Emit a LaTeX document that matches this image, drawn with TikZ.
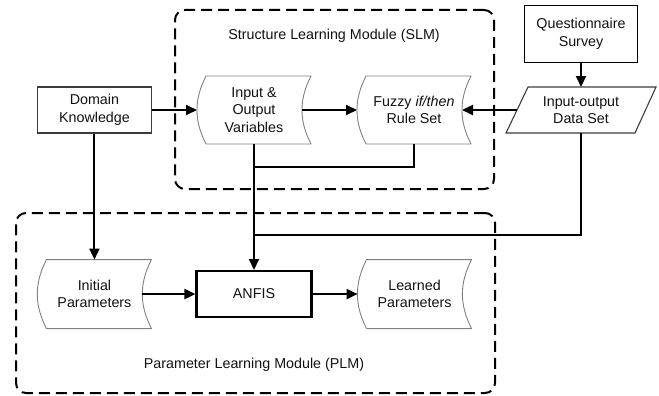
\documentclass[tikz,border=0pt]{standalone}
\usepackage{fontspec}
\setmainfont{Liberation Sans}
\usetikzlibrary{arrows.meta,positioning,calc,fit}
\definecolor{cText}{HTML}{111111}
\definecolor{cLine}{HTML}{000000}
\definecolor{cStore}{HTML}{808080}
\definecolor{cBox}{HTML}{3C3C3C}
\tikzset{
  txt/.style={font=\fontsize{14.3bp}{17.5bp}\selectfont, text=cText, align=center},
  plainbox/.style={txt, draw=cBox, line width=1.1bp, minimum width=114bp, minimum height=46bp, inner sep=2bp},
  srcbox/.style={plainbox, draw=cLine, line width=1.4bp, minimum height=57bp, minimum width=113bp},
  corebox/.style={plainbox, draw=cLine, line width=2.1bp, minimum width=115bp},
  storebox/.style={txt, outer sep=0pt, minimum width=114bp, minimum height=68bp, inner sep=2bp},
  databox/.style={txt, outer sep=0pt, minimum width=150bp, minimum height=46bp, inner sep=2bp},
  storeline/.style={draw=cStore, line width=0.9bp, line join=round},
  dataline/.style={draw=cBox, line width=1.1bp},
  module/.style={draw=cLine, line width=2bp, dash pattern=on 11bp off 6bp, rounded corners=10bp, inner sep=0pt},
  wire/.style={cLine, line width=2bp},
  arr/.style={wire, -{Triangle[length=11bp, width=10bp]}}
}

\begin{document}
\begin{tikzpicture}[x=1bp, y=1bp]
\useasboundingbox (0,0) rectangle (659,395);
% Row 1: structure learning
\node[storebox] (iovar) at (254,285) {Input \&\\Output\\Variables};
\node[storebox, right=46bp of iovar] (rules) {Fuzzy \textit{if/then}\\Rule Set};
\node[databox, right=35bp of rules] (ds) {Input-output\\Data Set};
\node[srcbox, above=24bp of ds] (quest) {Questionnaire\\Survey};
\node[plainbox, left=45bp of iovar] (dk) {Domain\\Knowledge};
% Row 2: parameter learning
\node[corebox, below=126bp of iovar] (anfis) {ANFIS};
\node[storebox, minimum height=69bp, left=44bp of anfis] (initp) {Initial\\Parameters};
\node[storebox, minimum height=69bp, right=45bp of anfis] (learnp) {Learned\\Parameters};
% Outlines of the data shapes
\foreach \n in {iovar,rules,initp,learnp}
  \draw[storeline] ($(\n.north west)+(9bp,0)$) -- (\n.north east) to[bend right=27] (\n.south east)
    -- ($(\n.south west)+(9bp,0)$) to[bend left=27] ($(\n.north west)+(9bp,0)$) -- cycle;
\draw[dataline] ($(ds.north west)+(22bp,0)$) -- (ds.north east) -- ($(ds.south east)+(-21bp,0)$) -- (ds.south west) -- cycle;
% Modules
\node[module, fit={(175,385) (494,206)}] (slm) {};
\node[module, fit={(16,182) (495,2)}] (plm) {};
\node[txt] (slmlbl) at ($(slm.north)+(-0.5,-27)$) {Structure Learning Module (SLM)};
\node[txt] (plmlbl) at ($(plm.south)+(-1.5,29)$) {Parameter Learning Module (PLM)};
% Connectors
\coordinate (slmjoin) at ($(iovar.south)+(0,-23bp)$);
\coordinate (plmjoin) at ($(anfis.north)+(0,35bp)$);
\draw[arr] (dk) -- (iovar);
\draw[arr] ($(iovar.east)+(-9bp,0)$) -- ($(rules.west)$);
\draw[arr] ($(ds.west)+(11bp,0)$) -- ($(rules.east)+(-9bp,0)$);
\draw[arr] (quest) -- (ds);
\draw[arr] (dk.south) -- (dk.south |- initp.north);
\draw[wire] (rules.south) |- (slmjoin);
\draw[wire] (ds.south) |- (plmjoin);
\draw[arr] (iovar.south) -- (anfis.north);
\draw[arr] ($(initp.east)+(-9bp,0)$) -- (anfis);
\draw[arr] (anfis) -- (learnp);
\end{tikzpicture}
\end{document}
